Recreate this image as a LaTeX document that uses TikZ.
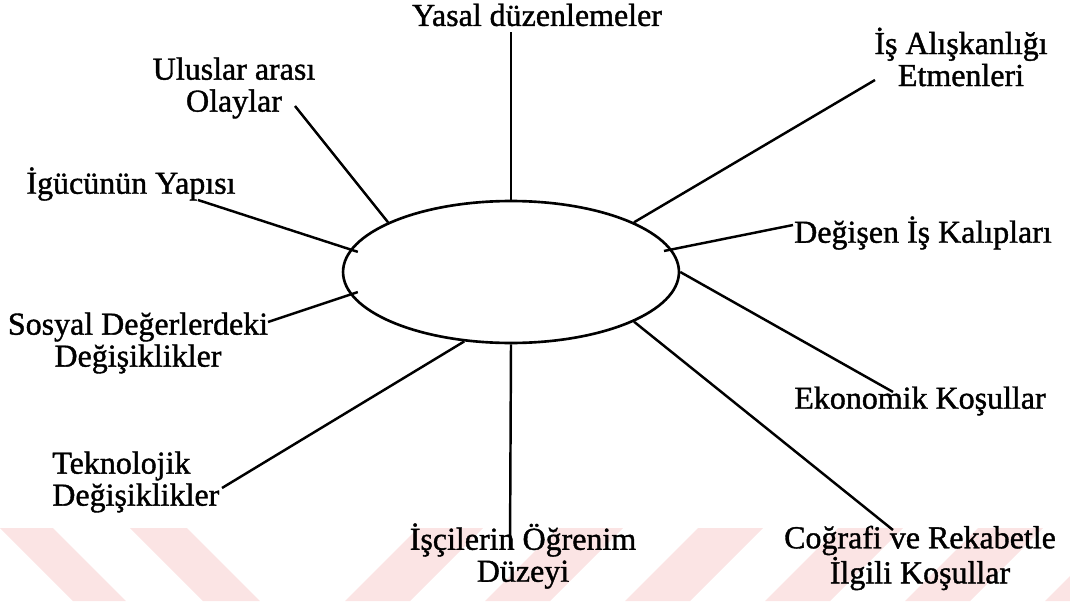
\documentclass[tikz,border=0pt]{standalone}
\usepackage{fontspec}
\setmainfont{Liberation Serif}
\newfontfamily\lblfamily{Liberation Serif}[FakeBold=1.2]
\usetikzlibrary{shapes.geometric}

\definecolor{wmpink}{RGB}{251,228,228}
\newcommand{\lblfont}{\lblfamily\fontsize{18.2pt}{18.2pt}\selectfont}

\begin{document}
\begin{tikzpicture}[
  x=0.02cm, y=-0.02cm,
  % Node styles
  hub/.style={ellipse, draw, line width=1.5pt, minimum width=6.72cm, minimum height=2.84cm, inner sep=0pt},
  lbl/.style={font=\lblfont, align=center, inner sep=0pt},
  % Edge styles
  spoke/.style={line width=1.4pt},
  gap/.style={spoke, shorten <=-0.16cm},
  band/.style={fill=wmpink},
]
\useasboundingbox (0,0) rectangle (1070,601);

% === pale stripes along the bottom ===
\fill[band] (0,528) -- (53,528) -- (126,601) -- (73,601) -- cycle;
\fill[band] (130,528) -- (187,528) -- (260,601) -- (203,601) -- cycle;
\foreach \b in {345,485,625,765,905,1045}
  \fill[band] (\b,601) -- (\b+65,601) -- (\b+138,528) -- (\b+73,528) -- cycle;

% === CENTER ===
\node[hub] (hub) at (511,272) {};

% === LABELS ===
\node[lbl] (yasal)     at (537,15)  {Yasal düzenlemeler};
\node[lbl] (uluslar)   at (234,88)  {Uluslar arası\\Olaylar};
\node[lbl] (igucu)     at (131,184) {İgücünün Yapısı};
\node[lbl] (isalis)    at (961,57)  {İş Alışkanlığı\\Etmenleri};
\node[lbl] (degisen)   at (923,233) {Değişen İş Kalıpları};
\node[lbl] (ekonomik)  at (920,401) {Ekonomik Koşullar};
\node[lbl] (cografi)   at (920,558) {Coğrafi ve Rekabetle\\İlgili Koşullar};
\node[lbl] (ogrenim)   at (523,556) {İşçilerin Öğrenim\\Düzeyi};
\node[lbl, align=left, anchor=west] (teknoloji) at (52,482) {Teknolojik\\Değişiklikler};
\node[lbl] (sosyal)    at (138,343) {Sosyal Değerlerdeki\\Değişiklikler};

% === spoke ends next to the labels ===
\coordinate (yasal-end)     at (511,32);
\coordinate (uluslar-end)   at (295,106);
\coordinate (igucu-end)     at (198,200);
\coordinate (isalis-end)    at (875,80);
\coordinate (degisen-end)   at (793,225);
\coordinate (ekonomik-end)  at (893,392);
\coordinate (cografi-end)   at (893,530);
\coordinate (ogrenim-end)   at (510,548);
\coordinate (teknoloji-end) at (222,488);
\coordinate (sosyal-end)    at (268,322);

% === SPOKES ===
\draw[spoke] (hub.90)   -- (yasal-end);
\draw[spoke] (hub.158)  -- (uluslar-end);
\draw[gap]   (hub.172)  -- (igucu-end);
\draw[spoke] (hub.22)   -- (isalis-end);
\draw[gap]   (hub.8)    -- (degisen-end);
\draw[spoke] (hub.0)    -- (ekonomik-end);
\draw[spoke] (hub.-22)  -- (cografi-end);
\draw[spoke] (hub.270)  -- (ogrenim-end);
\draw[spoke] (hub.236)  -- (teknoloji-end);
\draw[gap]   (hub.188)  -- (sosyal-end);

\end{tikzpicture}
\end{document}
